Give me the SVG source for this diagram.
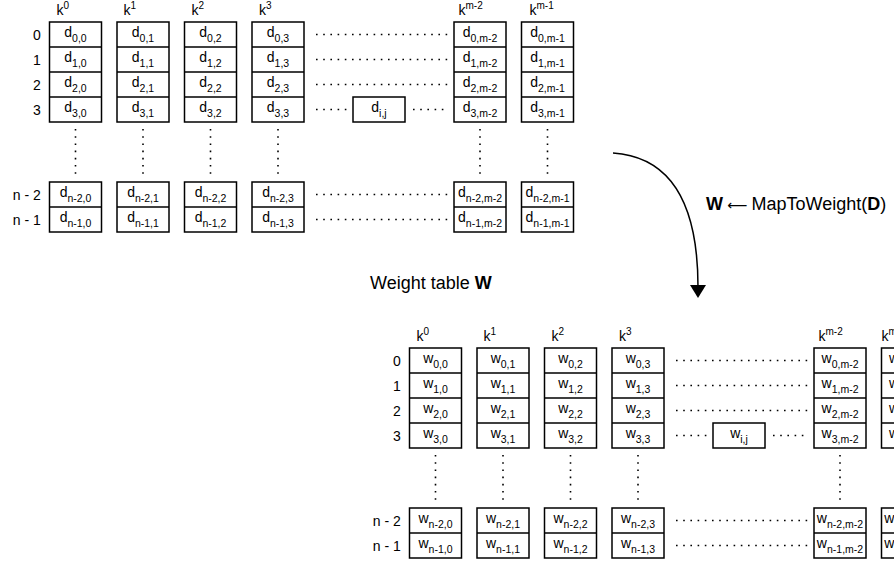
<svg xmlns="http://www.w3.org/2000/svg" width="894" height="564" viewBox="0 0 894 564">
  <style>
    text { font-family: "Liberation Sans", Arial, Helvetica, sans-serif; fill: #000; }
    .cell { fill: #fff; stroke: #000; stroke-width: 1.5; }
    .div { stroke: #000; stroke-width: 1.5; }
    .v { font-size: 14px; text-anchor: middle; }
    .sub { font-size: 10.5px; }
    .sup { font-size: 10px; }
    .lbl { font-size: 14px; text-anchor: end; }
    .k { font-size: 14px; }
    .dots { stroke: #000; stroke-width: 1.6; stroke-dasharray: 1.6 5.6; fill: none; }
    .title { font-size: 18px; }
    .b { font-weight: bold; }
    .edge { fill: none; stroke: #000; stroke-width: 1.5; }
  </style>
  <defs>
    <marker id="head" viewBox="0 0 13 16" refX="2" refY="8" markerWidth="13" markerHeight="16" markerUnits="userSpaceOnUse" orient="auto">
      <path d="M0,0 L13,8 L0,16 z" fill="#000"/>
    </marker>
  </defs>

  <!-- Data table D -->
  <g id="tableD">
    <g id="rowLabelsD">
      <text class="lbl" x="40.8" y="39.5">0</text>
      <text class="lbl" x="40.8" y="64.5">1</text>
      <text class="lbl" x="40.8" y="89.5">2</text>
      <text class="lbl" x="40.8" y="114.5">3</text>
      <text class="lbl" x="40.8" y="199.5">n - 2</text>
      <text class="lbl" x="40.8" y="224.5">n - 1</text>
    </g>
    <g id="colD0">
      <text class="k" x="56.5" y="15">k<tspan class="sup" dy="-6">0</tspan></text>
      <rect class="cell" x="49.5" y="22" width="52" height="100"/>
      <path class="div" d="M49.5,47 H101.5 M49.5,72 H101.5 M49.5,97 H101.5"/>
      <text class="v" x="75.5" y="37">d<tspan class="sub" dy="5">0,0</tspan></text>
      <text class="v" x="75.5" y="62">d<tspan class="sub" dy="5">1,0</tspan></text>
      <text class="v" x="75.5" y="87">d<tspan class="sub" dy="5">2,0</tspan></text>
      <text class="v" x="75.5" y="112">d<tspan class="sub" dy="5">3,0</tspan></text>
      <rect class="cell" x="49.5" y="182" width="52" height="50"/>
      <path class="div" d="M49.5,207 H101.5"/>
      <text class="v" x="75.5" y="197">d<tspan class="sub" dy="5">n-2,0</tspan></text>
      <text class="v" x="75.5" y="222">d<tspan class="sub" dy="5">n-1,0</tspan></text>
    </g>
    <g id="colD1">
      <text class="k" x="123.5" y="15">k<tspan class="sup" dy="-6">1</tspan></text>
      <rect class="cell" x="117" y="22" width="52" height="100"/>
      <path class="div" d="M117,47 H169 M117,72 H169 M117,97 H169"/>
      <text class="v" x="143" y="37">d<tspan class="sub" dy="5">0,1</tspan></text>
      <text class="v" x="143" y="62">d<tspan class="sub" dy="5">1,1</tspan></text>
      <text class="v" x="143" y="87">d<tspan class="sub" dy="5">2,1</tspan></text>
      <text class="v" x="143" y="112">d<tspan class="sub" dy="5">3,1</tspan></text>
      <rect class="cell" x="117" y="182" width="52" height="50"/>
      <path class="div" d="M117,207 H169"/>
      <text class="v" x="143" y="197">d<tspan class="sub" dy="5">n-2,1</tspan></text>
      <text class="v" x="143" y="222">d<tspan class="sub" dy="5">n-1,1</tspan></text>
    </g>
    <g id="colD2">
      <text class="k" x="191.5" y="15">k<tspan class="sup" dy="-6">2</tspan></text>
      <rect class="cell" x="184.5" y="22" width="52" height="100"/>
      <path class="div" d="M184.5,47 H236.5 M184.5,72 H236.5 M184.5,97 H236.5"/>
      <text class="v" x="210.5" y="37">d<tspan class="sub" dy="5">0,2</tspan></text>
      <text class="v" x="210.5" y="62">d<tspan class="sub" dy="5">1,2</tspan></text>
      <text class="v" x="210.5" y="87">d<tspan class="sub" dy="5">2,2</tspan></text>
      <text class="v" x="210.5" y="112">d<tspan class="sub" dy="5">3,2</tspan></text>
      <rect class="cell" x="184.5" y="182" width="52" height="50"/>
      <path class="div" d="M184.5,207 H236.5"/>
      <text class="v" x="210.5" y="197">d<tspan class="sub" dy="5">n-2,2</tspan></text>
      <text class="v" x="210.5" y="222">d<tspan class="sub" dy="5">n-1,2</tspan></text>
    </g>
    <g id="colD3">
      <text class="k" x="259" y="15">k<tspan class="sup" dy="-6">3</tspan></text>
      <rect class="cell" x="252" y="22" width="52" height="100"/>
      <path class="div" d="M252,47 H304 M252,72 H304 M252,97 H304"/>
      <text class="v" x="278" y="37">d<tspan class="sub" dy="5">0,3</tspan></text>
      <text class="v" x="278" y="62">d<tspan class="sub" dy="5">1,3</tspan></text>
      <text class="v" x="278" y="87">d<tspan class="sub" dy="5">2,3</tspan></text>
      <text class="v" x="278" y="112">d<tspan class="sub" dy="5">3,3</tspan></text>
      <rect class="cell" x="252" y="182" width="52" height="50"/>
      <path class="div" d="M252,207 H304"/>
      <text class="v" x="278" y="197">d<tspan class="sub" dy="5">n-2,3</tspan></text>
      <text class="v" x="278" y="222">d<tspan class="sub" dy="5">n-1,3</tspan></text>
    </g>
    <g id="cellDij">
      <rect class="cell" x="353" y="97" width="52" height="25"/>
      <text class="v" x="379" y="112">d<tspan class="sub" dy="5">i,j</tspan></text>
    </g>
    <g id="colDm2">
      <text class="k" x="458.5" y="15">k<tspan class="sup" dy="-6">m-2</tspan></text>
      <rect class="cell" x="454" y="22" width="52" height="100"/>
      <path class="div" d="M454,47 H506 M454,72 H506 M454,97 H506"/>
      <text class="v" x="480" y="37">d<tspan class="sub" dy="5">0,m-2</tspan></text>
      <text class="v" x="480" y="62">d<tspan class="sub" dy="5">1,m-2</tspan></text>
      <text class="v" x="480" y="87">d<tspan class="sub" dy="5">2,m-2</tspan></text>
      <text class="v" x="480" y="112">d<tspan class="sub" dy="5">3,m-2</tspan></text>
      <rect class="cell" x="454" y="182" width="52" height="50"/>
      <path class="div" d="M454,207 H506"/>
      <text class="v" x="480" y="197">d<tspan class="sub" dy="5">n-2,m-2</tspan></text>
      <text class="v" x="480" y="222">d<tspan class="sub" dy="5">n-1,m-2</tspan></text>
    </g>
    <g id="colDm1">
      <text class="k" x="529.5" y="15">k<tspan class="sup" dy="-6">m-1</tspan></text>
      <rect class="cell" x="521.5" y="22" width="52" height="100"/>
      <path class="div" d="M521.5,47 H573.5 M521.5,72 H573.5 M521.5,97 H573.5"/>
      <text class="v" x="547.5" y="37">d<tspan class="sub" dy="5">0,m-1</tspan></text>
      <text class="v" x="547.5" y="62">d<tspan class="sub" dy="5">1,m-1</tspan></text>
      <text class="v" x="547.5" y="87">d<tspan class="sub" dy="5">2,m-1</tspan></text>
      <text class="v" x="547.5" y="112">d<tspan class="sub" dy="5">3,m-1</tspan></text>
      <rect class="cell" x="521.5" y="182" width="52" height="50"/>
      <path class="div" d="M521.5,207 H573.5"/>
      <text class="v" x="547.5" y="197">d<tspan class="sub" dy="5">n-2,m-1</tspan></text>
      <text class="v" x="547.5" y="222">d<tspan class="sub" dy="5">n-1,m-1</tspan></text>
    </g>
    <!-- ellipsis dots between and below the columns -->
    <path class="dots" d="M316,34.5 H448 M316,59.5 H448 M316,84.5 H448 M316,109.5 H347 M413,109.5 H448 M316,194.5 H448 M316,219.5 H448"/>
    <path class="dots" d="M75.5,129 V174 M143,129 V174 M210.5,129 V174 M278,129 V174 M480,129 V174 M547.5,129 V174"/>
  </g>

  <!-- Weight table W (same layout, shifted) -->
  <text id="weightTitle" class="title" x="370" y="288.5">Weight table <tspan class="b">W</tspan></text>
  <g id="tableW" transform="translate(360,326)">
    <g id="rowLabelsW">
      <text class="lbl" x="40.8" y="39.5">0</text>
      <text class="lbl" x="40.8" y="64.5">1</text>
      <text class="lbl" x="40.8" y="89.5">2</text>
      <text class="lbl" x="40.8" y="114.5">3</text>
      <text class="lbl" x="40.8" y="199.5">n - 2</text>
      <text class="lbl" x="40.8" y="224.5">n - 1</text>
    </g>
    <g id="colW0">
      <text class="k" x="56.5" y="15">k<tspan class="sup" dy="-6">0</tspan></text>
      <rect class="cell" x="49.5" y="22" width="52" height="100"/>
      <path class="div" d="M49.5,47 H101.5 M49.5,72 H101.5 M49.5,97 H101.5"/>
      <text class="v" x="75.5" y="37">w<tspan class="sub" dy="5">0,0</tspan></text>
      <text class="v" x="75.5" y="62">w<tspan class="sub" dy="5">1,0</tspan></text>
      <text class="v" x="75.5" y="87">w<tspan class="sub" dy="5">2,0</tspan></text>
      <text class="v" x="75.5" y="112">w<tspan class="sub" dy="5">3,0</tspan></text>
      <rect class="cell" x="49.5" y="182" width="52" height="50"/>
      <path class="div" d="M49.5,207 H101.5"/>
      <text class="v" x="75.5" y="197">w<tspan class="sub" dy="5">n-2,0</tspan></text>
      <text class="v" x="75.5" y="222">w<tspan class="sub" dy="5">n-1,0</tspan></text>
    </g>
    <g id="colW1">
      <text class="k" x="123.5" y="15">k<tspan class="sup" dy="-6">1</tspan></text>
      <rect class="cell" x="117" y="22" width="52" height="100"/>
      <path class="div" d="M117,47 H169 M117,72 H169 M117,97 H169"/>
      <text class="v" x="143" y="37">w<tspan class="sub" dy="5">0,1</tspan></text>
      <text class="v" x="143" y="62">w<tspan class="sub" dy="5">1,1</tspan></text>
      <text class="v" x="143" y="87">w<tspan class="sub" dy="5">2,1</tspan></text>
      <text class="v" x="143" y="112">w<tspan class="sub" dy="5">3,1</tspan></text>
      <rect class="cell" x="117" y="182" width="52" height="50"/>
      <path class="div" d="M117,207 H169"/>
      <text class="v" x="143" y="197">w<tspan class="sub" dy="5">n-2,1</tspan></text>
      <text class="v" x="143" y="222">w<tspan class="sub" dy="5">n-1,1</tspan></text>
    </g>
    <g id="colW2">
      <text class="k" x="191.5" y="15">k<tspan class="sup" dy="-6">2</tspan></text>
      <rect class="cell" x="184.5" y="22" width="52" height="100"/>
      <path class="div" d="M184.5,47 H236.5 M184.5,72 H236.5 M184.5,97 H236.5"/>
      <text class="v" x="210.5" y="37">w<tspan class="sub" dy="5">0,2</tspan></text>
      <text class="v" x="210.5" y="62">w<tspan class="sub" dy="5">1,2</tspan></text>
      <text class="v" x="210.5" y="87">w<tspan class="sub" dy="5">2,2</tspan></text>
      <text class="v" x="210.5" y="112">w<tspan class="sub" dy="5">3,2</tspan></text>
      <rect class="cell" x="184.5" y="182" width="52" height="50"/>
      <path class="div" d="M184.5,207 H236.5"/>
      <text class="v" x="210.5" y="197">w<tspan class="sub" dy="5">n-2,2</tspan></text>
      <text class="v" x="210.5" y="222">w<tspan class="sub" dy="5">n-1,2</tspan></text>
    </g>
    <g id="colW3">
      <text class="k" x="259" y="15">k<tspan class="sup" dy="-6">3</tspan></text>
      <rect class="cell" x="252" y="22" width="52" height="100"/>
      <path class="div" d="M252,47 H304 M252,72 H304 M252,97 H304"/>
      <text class="v" x="278" y="37">w<tspan class="sub" dy="5">0,3</tspan></text>
      <text class="v" x="278" y="62">w<tspan class="sub" dy="5">1,3</tspan></text>
      <text class="v" x="278" y="87">w<tspan class="sub" dy="5">2,3</tspan></text>
      <text class="v" x="278" y="112">w<tspan class="sub" dy="5">3,3</tspan></text>
      <rect class="cell" x="252" y="182" width="52" height="50"/>
      <path class="div" d="M252,207 H304"/>
      <text class="v" x="278" y="197">w<tspan class="sub" dy="5">n-2,3</tspan></text>
      <text class="v" x="278" y="222">w<tspan class="sub" dy="5">n-1,3</tspan></text>
    </g>
    <g id="cellWij">
      <rect class="cell" x="353" y="97" width="52" height="25"/>
      <text class="v" x="379" y="112">w<tspan class="sub" dy="5">i,j</tspan></text>
    </g>
    <g id="colWm2">
      <text class="k" x="458.5" y="15">k<tspan class="sup" dy="-6">m-2</tspan></text>
      <rect class="cell" x="454" y="22" width="52" height="100"/>
      <path class="div" d="M454,47 H506 M454,72 H506 M454,97 H506"/>
      <text class="v" x="480" y="37">w<tspan class="sub" dy="5">0,m-2</tspan></text>
      <text class="v" x="480" y="62">w<tspan class="sub" dy="5">1,m-2</tspan></text>
      <text class="v" x="480" y="87">w<tspan class="sub" dy="5">2,m-2</tspan></text>
      <text class="v" x="480" y="112">w<tspan class="sub" dy="5">3,m-2</tspan></text>
      <rect class="cell" x="454" y="182" width="52" height="50"/>
      <path class="div" d="M454,207 H506"/>
      <text class="v" x="480" y="197">w<tspan class="sub" dy="5">n-2,m-2</tspan></text>
      <text class="v" x="480" y="222">w<tspan class="sub" dy="5">n-1,m-2</tspan></text>
    </g>
    <g id="colWm1">
      <text class="k" x="521.5" y="15">k<tspan class="sup" dy="-6">m-1</tspan></text>
      <rect class="cell" x="521.5" y="22" width="52" height="100"/>
      <path class="div" d="M521.5,47 H573.5 M521.5,72 H573.5 M521.5,97 H573.5"/>
      <text class="v" x="547.5" y="37">w<tspan class="sub" dy="5">0,m-1</tspan></text>
      <text class="v" x="547.5" y="62">w<tspan class="sub" dy="5">1,m-1</tspan></text>
      <text class="v" x="547.5" y="87">w<tspan class="sub" dy="5">2,m-1</tspan></text>
      <text class="v" x="547.5" y="112">w<tspan class="sub" dy="5">3,m-1</tspan></text>
      <rect class="cell" x="521.5" y="182" width="52" height="50"/>
      <path class="div" d="M521.5,207 H573.5"/>
      <text class="v" x="547.5" y="197">w<tspan class="sub" dy="5">n-2,m-1</tspan></text>
      <text class="v" x="547.5" y="222">w<tspan class="sub" dy="5">n-1,m-1</tspan></text>
    </g>
    <path class="dots" d="M316,34.5 H448 M316,59.5 H448 M316,84.5 H448 M316,109.5 H347 M413,109.5 H448 M316,194.5 H448 M316,219.5 H448"/>
    <path class="dots" d="M75.5,129 V174 M143,129 V174 M210.5,129 V174 M278,129 V174 M480,129 V174"/>
  </g>

  <!-- Mapping step -->
  <g id="connectors">
    <path class="edge" d="M613,153 C672,157 698,205 698,287" marker-end="url(#head)"/>
  </g>
  <text id="mapLabel" class="title" y="210"><tspan class="b" x="706">W</tspan><tspan x="727.5" font-family="DejaVu Sans, sans-serif" font-size="14">⟵</tspan><tspan x="751.5">MapToWeight(</tspan><tspan class="b">D</tspan>)</text>
</svg>
